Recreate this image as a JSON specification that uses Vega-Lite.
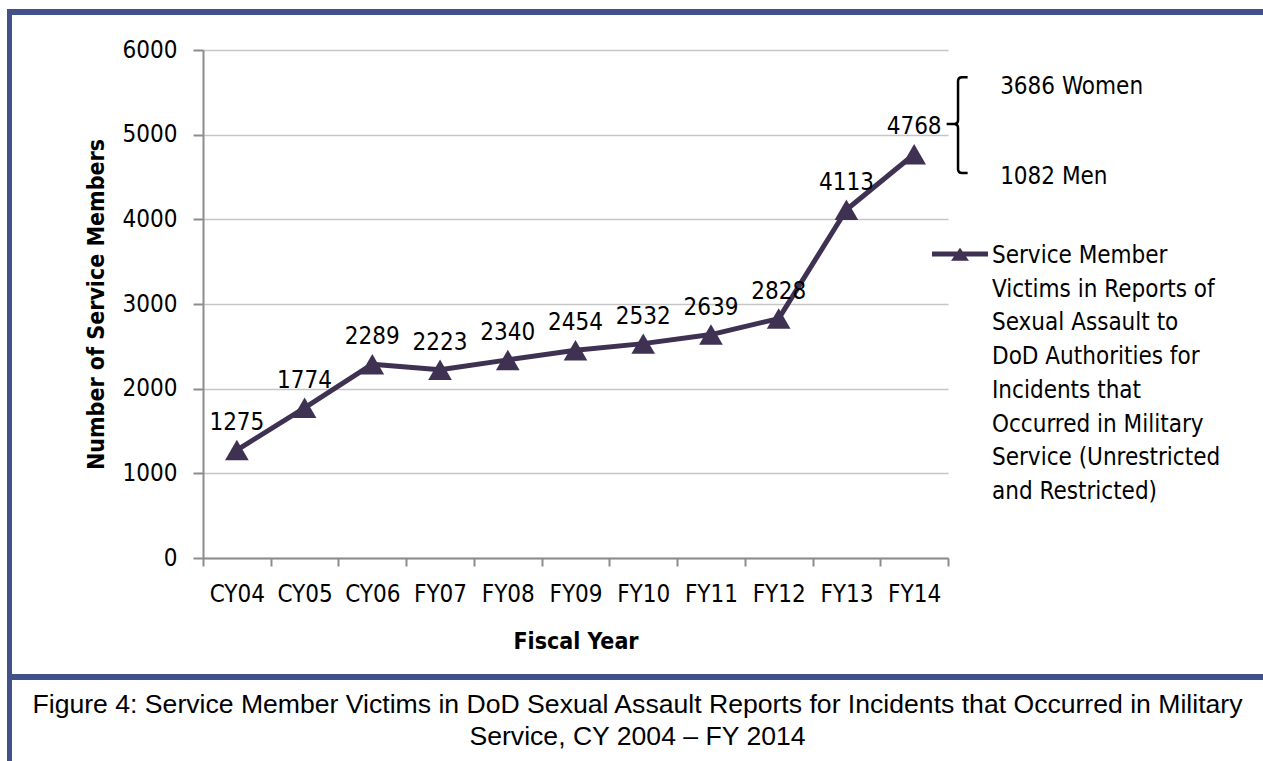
{
  "$schema": "https://vega.github.io/schema/vega-lite/v6.json",
  "background": "white",
  "padding": {"left": 7, "top": 9, "right": 0, "bottom": 0},
  "spacing": 0,
  "resolve": {"scale": {"color": "independent"}, "legend": {"color": "independent"}},
  "config": {
    "font": "DejaVu Sans Condensed, Roboto Condensed, Liberation Sans Narrow, Arial Narrow, Roboto, sans-serif",
    "view": {"stroke": null},
    "axis": {
      "labelFont": "DejaVu Sans Condensed, Roboto Condensed, Liberation Sans Narrow, Arial Narrow, Roboto, sans-serif",
      "labelFontSize": 24,
      "labelColor": "#000000",
      "titleFont": "DejaVu Sans Condensed, Roboto Condensed, Liberation Sans Narrow, Arial Narrow, Roboto, sans-serif",
      "titleFontSize": 23,
      "titleFontWeight": "bold",
      "titleColor": "#000000",
      "domainColor": "#8c8c8c",
      "domainWidth": 2,
      "tickColor": "#8c8c8c",
      "tickWidth": 2,
      "gridColor": "#c6c6c6",
      "gridWidth": 1.5
    }
  },
  "datasets": {
    "victims": [
      {"year": "CY04", "victims": 1275, "series": "Service Member Victims in Reports of Sexual Assault to DoD Authorities for Incidents that Occurred in Military Service (Unrestricted and Restricted)"},
      {"year": "CY05", "victims": 1774, "series": "Service Member Victims in Reports of Sexual Assault to DoD Authorities for Incidents that Occurred in Military Service (Unrestricted and Restricted)"},
      {"year": "CY06", "victims": 2289, "series": "Service Member Victims in Reports of Sexual Assault to DoD Authorities for Incidents that Occurred in Military Service (Unrestricted and Restricted)"},
      {"year": "FY07", "victims": 2223, "series": "Service Member Victims in Reports of Sexual Assault to DoD Authorities for Incidents that Occurred in Military Service (Unrestricted and Restricted)"},
      {"year": "FY08", "victims": 2340, "series": "Service Member Victims in Reports of Sexual Assault to DoD Authorities for Incidents that Occurred in Military Service (Unrestricted and Restricted)"},
      {"year": "FY09", "victims": 2454, "series": "Service Member Victims in Reports of Sexual Assault to DoD Authorities for Incidents that Occurred in Military Service (Unrestricted and Restricted)"},
      {"year": "FY10", "victims": 2532, "series": "Service Member Victims in Reports of Sexual Assault to DoD Authorities for Incidents that Occurred in Military Service (Unrestricted and Restricted)"},
      {"year": "FY11", "victims": 2639, "series": "Service Member Victims in Reports of Sexual Assault to DoD Authorities for Incidents that Occurred in Military Service (Unrestricted and Restricted)"},
      {"year": "FY12", "victims": 2828, "series": "Service Member Victims in Reports of Sexual Assault to DoD Authorities for Incidents that Occurred in Military Service (Unrestricted and Restricted)"},
      {"year": "FY13", "victims": 4113, "series": "Service Member Victims in Reports of Sexual Assault to DoD Authorities for Incidents that Occurred in Military Service (Unrestricted and Restricted)"},
      {"year": "FY14", "victims": 4768, "series": "Service Member Victims in Reports of Sexual Assault to DoD Authorities for Incidents that Occurred in Military Service (Unrestricted and Restricted)"}
    ],
    "women": [{"label": "3686 Women", "year": "FY14"}],
    "men": [{"label": "1082 Men", "year": "FY14"}],
    "fy14": [{"year": "FY14", "total": 4768}]
  },
  "vconcat": [
    {"width": 1256, "height": 6, "data": {"values": []}, "mark": "point", "view": {"fill": "#43518a", "stroke": null}},
    {
      "spacing": 73,
      "resolve": {"scale": {"color": "independent"}, "legend": {"color": "independent"}},
      "hconcat": [
        {"width": 5, "height": 659, "data": {"values": []}, "mark": "point", "view": {"fill": "#43518a", "stroke": null}},
        {
          "spacing": 0,
          "resolve": {"scale": {"color": "independent"}, "legend": {"color": "independent"}},
          "vconcat": [
            {"width": 1, "height": 23, "data": {"values": []}, "mark": "point"},
            {
              "width": 745,
              "height": 508,
              "data": {"name": "victims"},
              "layer": [
                {
                  "mark": {"type": "line", "strokeWidth": 5, "strokeJoin": "round", "strokeCap": "round"},
                  "encoding": {
                    "x": {
                      "field": "year", "type": "ordinal", "sort": null,
                      "scale": {"type": "band", "paddingInner": 0, "paddingOuter": 0},
                      "axis": {"title": "Fiscal Year", "labelAngle": 0, "tickBand": "extent", "tickSize": 8, "labelPadding": 16, "titlePadding": 24, "grid": false}
                    },
                    "y": {
                      "field": "victims", "type": "quantitative",
                      "scale": {"domain": [0, 6000], "nice": false},
                      "axis": {"title": "Number of Service Members", "values": [0, 1000, 2000, 3000, 4000, 5000, 6000], "format": "d", "tickSize": 10, "labelPadding": 16, "titlePadding": 14, "grid": true}
                    },
                    "color": {
                      "field": "series", "type": "nominal",
                      "scale": {"range": ["#3f3151"]},
                      "legend": {
                        "orient": "none",
                        "legendX": 729,
                        "legendY": 176,
                        "title": null,
                        "padding": 0,
                        "symbolType": "M-1,-0.085H1V0.085H-1Z M-0.32,0.24L0,-0.22L0.32,0.24Z",
                        "symbolSize": 3136,
                        "symbolStrokeWidth": 0,
                        "symbolFillColor": "#3f3151",
                        "symbolStrokeColor": "#3f3151",
                        "labelFont": "DejaVu Sans Condensed, Roboto Condensed, Liberation Sans Narrow, Arial Narrow, Roboto, sans-serif",
                        "labelFontSize": 24,
                        "labelColor": "#000000",
                        "labelLimit": 0,
                        "labelOffset": 4,
                        "labelBaseline": "top",
                        "labelExpr": "['Service Member', 'Victims in Reports of', 'Sexual Assault to', 'DoD Authorities for', 'Incidents that', 'Occurred in Military', 'Service (Unrestricted', 'and Restricted)']",
                        "encode": {
                          "symbols": {"update": {"fill": {"value": "#3f3151"}, "stroke": {"value": "#3f3151"}, "strokeWidth": {"value": 0}}},
                          "labels": {"update": {"lineHeight": {"value": 33.7}, "dy": {"value": -10}}}
                        }
                      }
                    }
                  }
                },
                {
                  "mark": {"type": "point", "shape": "triangle-up", "filled": true, "size": 560, "opacity": 1, "color": "#3f3151"},
                  "encoding": {
                    "x": {"field": "year", "type": "ordinal", "sort": null},
                    "y": {"field": "victims", "type": "quantitative"}
                  }
                },
                {
                  "mark": {"type": "text", "dy": -20, "baseline": "alphabetic", "align": "center", "fontSize": 24, "color": "#000000"},
                  "encoding": {
                    "x": {"field": "year", "type": "ordinal", "sort": null},
                    "y": {"field": "victims", "type": "quantitative"},
                    "text": {"field": "victims", "type": "quantitative", "format": "d"}
                  }
                },
                {
                  "data": {"name": "fy14"},
                  "mark": {
                    "type": "point", "filled": false, "size": 10000, "opacity": 1, "color": "#000000", "strokeWidth": 2.5, "clip": false,
                    "shape": "M1.07,-0.934L0.958,-0.934Q0.878,-0.934 0.878,-0.854L0.878,-0.08Q0.878,0 0.798,0L0.65,0M0.798,0Q0.878,0 0.878,0.08L0.878,0.9Q0.878,0.98 0.958,0.98L1.07,0.98"
                  },
                  "encoding": {
                    "x": {"field": "year", "type": "ordinal", "sort": null},
                    "y": {"datum": 5126}
                  }
                },
                {
                  "data": {"name": "women"},
                  "mark": {"type": "text", "align": "left", "baseline": "middle", "dx": 86, "fontSize": 24, "color": "#000000", "clip": false},
                  "encoding": {
                    "x": {"field": "year", "type": "ordinal", "sort": null},
                    "y": {"datum": 5560},
                    "text": {"field": "label"}
                  }
                },
                {
                  "data": {"name": "men"},
                  "mark": {"type": "text", "align": "left", "baseline": "middle", "dx": 86, "fontSize": 24, "color": "#000000", "clip": false},
                  "encoding": {
                    "x": {"field": "year", "type": "ordinal", "sort": null},
                    "y": {"datum": 4500},
                    "text": {"field": "label"}
                  }
                }
              ]
            }
          ]
        }
      ]
    },
    {"width": 1256, "height": 6, "data": {"values": []}, "mark": "point", "view": {"fill": "#43518a", "stroke": null}},
    {
      "spacing": 0,
      "hconcat": [
        {"width": 5, "height": 81, "data": {"values": []}, "mark": "point", "view": {"fill": "#43518a", "stroke": null}},
        {
          "width": 1251,
          "height": 81,
          "data": {"values": [{}]},
          "mark": {
            "type": "text",
            "text": ["Figure 4: Service Member Victims in DoD Sexual Assault Reports for Incidents that Occurred in Military", "Service, CY 2004 \u2013 FY 2014"],
            "font": "Liberation Sans",
            "fontSize": 26.6,
            "lineHeight": 32,
            "dy": -16,
            "align": "center",
            "baseline": "middle",
            "color": "#000000"
          }
        }
      ]
    }
  ]
}
